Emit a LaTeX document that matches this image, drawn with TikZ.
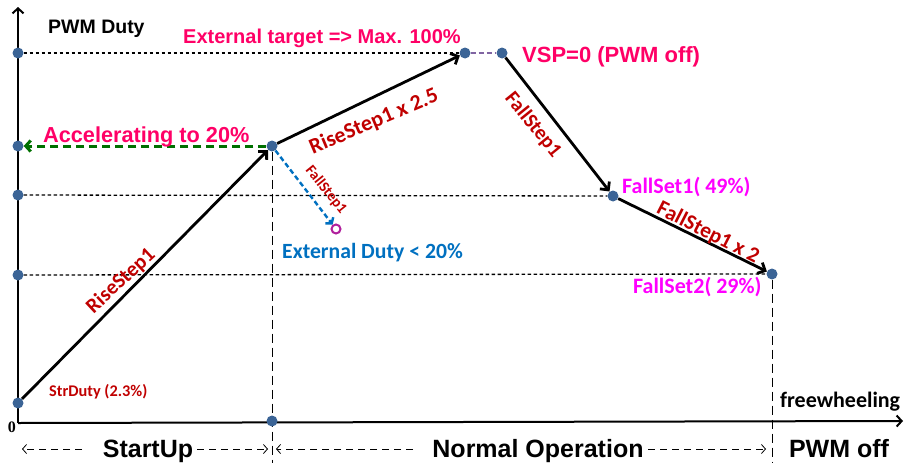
\documentclass[tikz,border=0pt]{standalone}
\usepackage{fontspec}
\setmainfont{Liberation Sans}
\newfontfamily\calib{Carlito}
\newfontfamily\tms{Liberation Serif}
\usetikzlibrary{arrows.meta}
\definecolor{pinkred}{HTML}{FF0066}
\definecolor{dred}{HTML}{C00000}
\definecolor{mag}{HTML}{FF00FF}
\definecolor{bline}{HTML}{0070C0}
\definecolor{dotc}{HTML}{3B6496}
\definecolor{greend}{RGB}{0,112,0}
\definecolor{purp}{HTML}{8064A2}
\definecolor{circc}{HTML}{B0209C}
\pgfdeclarelayer{bg}
\pgfsetlayers{bg,main}
\newcommand{\fsz}[1]{\fontsize{#1}{#1}\selectfont}
\begin{document}
\begin{tikzpicture}[x=1pt,y=-1pt,
  dot/.style={circle,fill=dotc,inner sep=0pt,minimum size=11pt},
  opendot/.style={circle,draw=circc,line width=2pt,fill=white,inner sep=0pt,minimum size=9pt},
  axisline/.style={line width=2pt,-{Straight Barb[length=5pt,width=11pt]}},
  mainarrow/.style={line width=2.8pt,-{Straight Barb[length=6pt,width=12pt]}},
  hdash/.style={line width=1.3pt,dash pattern=on 3.5pt off 2.5pt},
  vdash/.style={line width=1pt,dash pattern=on 9pt off 5pt},
  botarrow/.style={line width=0.8pt,dash pattern=on 7pt off 5pt,-{Straight Barb[length=4pt,width=9pt]}},
  arl/.style={font=\bfseries\fsz{#1},inner sep=0pt},
  cal/.style={font=\calib\bfseries\fsz{#1},inner sep=0pt},
]
\useasboundingbox (0,0) rectangle (904,463);
% dots
\node[dot] (y1) at (18,53) {};
\node[dot] (y2) at (18,146) {};
\node[dot] (y3) at (18,195) {};
\node[dot] (y4) at (18,275) {};
\node[dot] (A) at (18,403) {};
\node[dot] (B) at (272,146) {};
\node[dot] (C) at (465,53) {};
\node[dot] (D) at (502,53) {};
\node[dot] (E) at (613,196) {};
\node[dot] (F) at (772,274) {};
\node[dot] (xd) at (272,421) {};
\node[opendot] (G) at (336,229) {};
\coordinate (O) at (18,423);
\coordinate (ytop) at (18,7);
\coordinate (xend) at (903,421);
\coordinate (Bbot) at (272,463);
\coordinate (Fbot) at (772,463);
\begin{pgfonlayer}{bg}
\draw[axisline] (O) -- (ytop);
\draw[axisline] (O) -- (xend);
\draw[hdash] (y1) -- (C);
\draw[hdash] (y3) -- (E);
\draw[hdash] (y4) -- (F);
\draw[vdash] (B) -- (Bbot);
\draw[vdash] (F) -- (Fbot);
\end{pgfonlayer}
\draw[purp,line width=2pt,dash pattern=on 5pt off 3pt] (C) -- (D);
\draw[greend,line width=3pt,dash pattern=on 8pt off 5pt,-{Straight Barb[length=5pt,width=11pt]}] (B) -- (y2);
\draw[bline,line width=2.4pt,dash pattern=on 5pt off 3pt,-{Straight Barb[length=4pt,width=10pt]}] (B) -- (G);
\draw[mainarrow] (A) -- (B);
\draw[mainarrow] (B) -- (C);
\draw[mainarrow] (D) -- (E);
\draw[mainarrow] (E) -- (F);
% labels
\node[arl=19.5,anchor=base west] (pwm) at (48,33) {PWM Duty};
\node[arl=20,anchor=base west,text=pinkred] (ext) at (183,43) {External target => Max. 100\%};
\node[arl=22,anchor=base west,text=pinkred] (vsp) at (522,62) {VSP=0 (PWM off)};
\node[arl=21.7,anchor=base west,text=pinkred] (acc) at (43,142) {Accelerating to 20\%};
\node[cal=22,anchor=base west,text=mag] (fs1) at (622,193) {FallSet1( 49\%)};
\node[cal=22,anchor=base west,text=mag] (fs2) at (633,293) {FallSet2( 29\%)};
\node[cal=21.7,anchor=base west,text=bline] (extd) at (282,258) {External Duty < 20\%};
\node[cal=16.3,anchor=base west,text=dred] (str) at (49,396) {StrDuty (2.3\%)};
\node[cal=22,anchor=base west] (fw) at (780,407) {freewheeling};
\node[inner sep=0pt,font=\tms\bfseries\fsz{16}] (zero) at (12,427) {0};
\node[cal=21,text=dred,rotate=43] (l1) at (121,281) {RiseStep1};
\node[cal=22,text=dred,rotate=23] (l2) at (374,122) {RiseStep1 x 2.5};
\node[cal=20.5,text=dred,rotate=-51] (l3) at (533,125) {FallStep1};
\node[cal=21.5,text=dred,rotate=-27] (l4) at (708,233) {FallStep1 x 2};
\node[cal=15,text=dred,rotate=-51] (l5) at (326,190) {FallStep1};
% bottom phases
\node[arl=25,anchor=base] (su) at (148,457) {StartUp};
\node[arl=25,anchor=base] (no) at (538,457) {Normal Operation};
\node[arl=25,anchor=base] (po) at (839,457) {PWM off};
\coordinate (su0) at (22,449);
\coordinate (su1) at (82,449);
\coordinate (su2) at (197,449);
\coordinate (su3) at (268,449);
\coordinate (no0) at (276,449);
\coordinate (no1) at (413,449);
\coordinate (no2) at (648,449);
\coordinate (no3) at (766,449);
\draw[botarrow] (su1) -- (su0);
\draw[botarrow] (su2) -- (su3);
\draw[botarrow] (no1) -- (no0);
\draw[botarrow] (no2) -- (no3);
\end{tikzpicture}
\end{document}
